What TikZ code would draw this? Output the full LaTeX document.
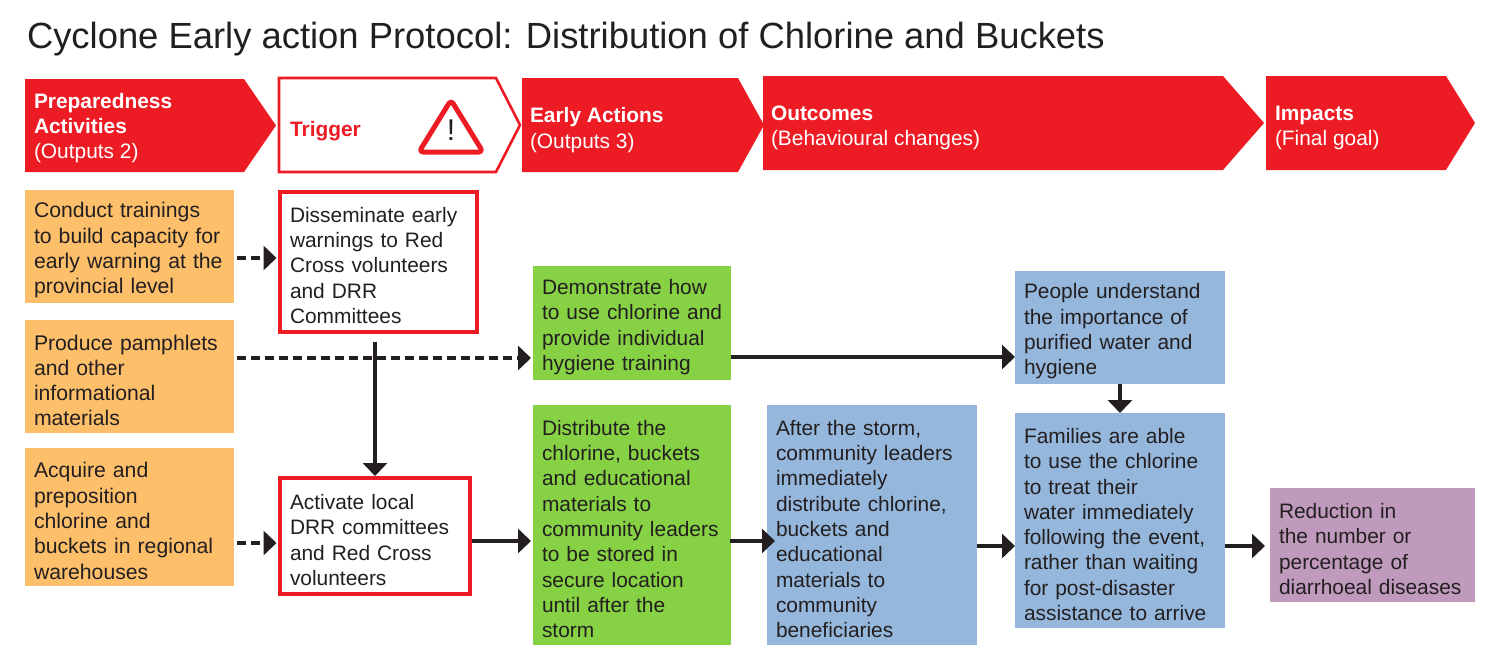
\documentclass[tikz,border=0pt]{standalone}
\usepackage{fontspec}
\setmainfont{Liberation Sans}
\usetikzlibrary{positioning,arrows.meta}
\definecolor{cyclonered}{HTML}{ED1C24}
\definecolor{prepcolor}{HTML}{FDBF6A}
\definecolor{actioncolor}{HTML}{86D244}
\definecolor{outcomecolor}{HTML}{95B7DC}
\definecolor{impactcolor}{HTML}{C09ABC}
\definecolor{inkcolor}{HTML}{231F20}
\tikzset{
	>={Triangle[length=6.5pt,width=12pt]}
}

\begin{document}
\begin{tikzpicture}[
	x = .5pt,
	y = -.5pt,
	every node/.style = {
		font = \fontsize{10.45}{12.65}\selectfont,
		text = inkcolor,
		inner sep = 0pt,
		outer sep = 0pt,
		align = left
	},
	banner/.style = {
		fill = cyclonered
	},
	bannertext/.style = {
		anchor = west,
		text = white
	},
	box/.style = {
		minimum width = 104.5pt,
		text width = 95.5pt,
		execute at begin node = {\rule{0pt}{11.6pt}}
	},
	prep/.style = {
		box,
		fill = prepcolor,
		font = \fontsize{10.6}{12.65}\selectfont
	},
	action/.style = {
		box,
		fill = actioncolor,
		minimum width = 99pt,
		text width = 90pt
	},
	outcome/.style = {
		box,
		fill = outcomecolor,
		minimum width = 105pt,
		text width = 96pt
	},
	triggerbox/.style = {
		box,
		draw = cyclonered,
		line width = 2pt,
		fill = white
	},
	link/.style = {
		->,
		line width = 2pt,
		draw = inkcolor
	},
	dashlink/.style = {
		link,
		dash pattern = on 4.4pt off 2.6pt
	}
	]
	
	\path[use as bounding box] (0,0) rectangle (1506,669);
	
	\node (title) [anchor = west, font = \fontsize{18.2}{20}\selectfont] at (27,39) {Cyclone Early action Protocol: Distribution of Chlorine and Buckets};
	
	\path[banner] (25,79) -- (244,79) -- (276,125.5) -- (244,172) -- (25,172) -- cycle;
	\path[draw = cyclonered, line width = 1.3pt, line join = miter] (279,78) -- (496,78) -- (520,125) -- (496,172) -- (279,172) -- cycle;
	\path[banner] (522,78) -- (738,78) -- (764,125) -- (738,172) -- (522,172) -- cycle;
	\path[banner] (763,76) -- (1223,76) -- (1264,123) -- (1223,170) -- (763,170) -- cycle;
	\path[banner] (1266,76) -- (1446,76) -- (1475,123) -- (1446,170) -- (1266,170) -- cycle;
	
	\node (prep_title) [bannertext] at (34,128) {\textbf{Preparedness}\\\textbf{Activities}\\(Outputs 2)};
	\node (trigger_title) [anchor = west, text = cyclonered, font = \fontsize{10.45}{12.65}\selectfont\bfseries] at (290,131) {Trigger};
	\node (early_title) [bannertext] at (530,130) {\textbf{Early Actions}\\(Outputs 3)};
	\node (outcomes_title) [bannertext] at (771,128) {\textbf{Outcomes}\\(Behavioural changes)};
	\node (impacts_title) [bannertext] at (1275,128) {\textbf{Impacts}\\(Final goal)};
	
	\draw[cyclonered, line width = 2.5pt, line join = round, rounded corners = 2pt] (451,100) -- (483,152) -- (419,152) -- cycle;
	\node (warning) [font = \fontsize{15}{15}\selectfont] at (451,130) {!};
	
	\node (prep_a) [prep, minimum height = 56.5pt, anchor = north west] at (25,190) {Conduct trainings\\to build capacity for\\early warning at the\\provincial level};
	\node (prep_b) [prep, minimum height = 56.5pt, below = 8.5pt of prep_a] {Produce pamphlets\\and other\\informational\\materials};
	\node (prep_c) [prep, minimum height = 69pt, below = 7.5pt of prep_b] {Acquire and\\preposition\\chlorine and\\buckets in regional\\warehouses};
	
	\node (disseminate) [triggerbox, minimum width = 98.5pt, text width = 88pt, minimum height = 70pt, anchor = north west] at (279.5,191.5) {Disseminate early\\warnings to Red\\Cross volunteers\\and DRR\\Committees};
	\node (activate) [triggerbox, minimum width = 95pt, text width = 84.5pt, minimum height = 58pt, anchor = north west] at (279.5,478) {Activate local\\DRR committees\\and Red Cross\\volunteers};
	
	\node (demonstrate) [action, minimum height = 57pt, anchor = north west] at (533,266) {Demonstrate how\\\mbox{to use chlorine and}\\provide individual\\hygiene training};
	\node (distribute) [action, minimum height = 120pt, below = 12.5pt of demonstrate] {Distribute the\\chlorine, buckets\\and educational\\materials to\\community leaders\\to be stored in\\secure location\\until after the\\storm};
	
	\node (after_storm) [outcome, minimum height = 120pt, right = 18pt of distribute] {After the storm,\\community leaders\\immediately\\distribute chlorine,\\buckets and\\educational\\materials to\\community\\beneficiaries};
	\node (understand) [outcome, minimum height = 56.5pt, anchor = north west] at (1015,271) {People understand\\the importance of\\purified water and\\hygiene};
	\node (families) [outcome, minimum height = 107.5pt, below = 14.5pt of understand] {Families are able\\to use the chlorine\\to treat their\\water immediately\\following the event,\\rather than waiting\\for post-disaster\\assistance to arrive};
	
	\node (reduction) [box, fill = impactcolor, minimum width = 102.5pt, text width = 93.5pt, minimum height = 57pt, anchor = north west] at (1270,488) {Reduction in\\the number or\\percentage of\\diarrhoeal diseases};
	
	\draw[dashlink] ([shift = {(3,11.5)}]prep_a.east) -- ([shift = {(-3,-3.5)}]disseminate.west);
	\draw[dashlink] ([shift = {(3,-18.5)}]prep_b.east) -- ([shift = {(-2,35)}]demonstrate.west);
	\draw[dashlink] ([shift = {(3,26)}]prep_c.east) -- ([shift = {(-3,7)}]activate.west);
	\draw[link] ([shift = {(-3,10)}]disseminate.south) -- ([shift = {(.5,-2)}]activate.north);
	\draw[link] ([shift = {(2,5)}]activate.east) -- ([shift = {(-2,16)}]distribute.west);
	\draw[link] ([shift = {(-1,16)}]distribute.east) -- ([shift = {(8,16)}]after_storm.west);
	\draw[link] ([shift = {(0,34)}]demonstrate.east) -- ([shift = {(0,29.5)}]understand.west);
	\draw[link] ([shift = {(0,21)}]after_storm.east) -- ([shift = {(0,25.5)}]families.west);
	\draw[link] (understand.south) -- (families.north);
	\draw[link] ([shift = {(0,25.5)}]families.east) -- ([shift = {(-5,1)}]reduction.west);
	
\end{tikzpicture}
\end{document}
